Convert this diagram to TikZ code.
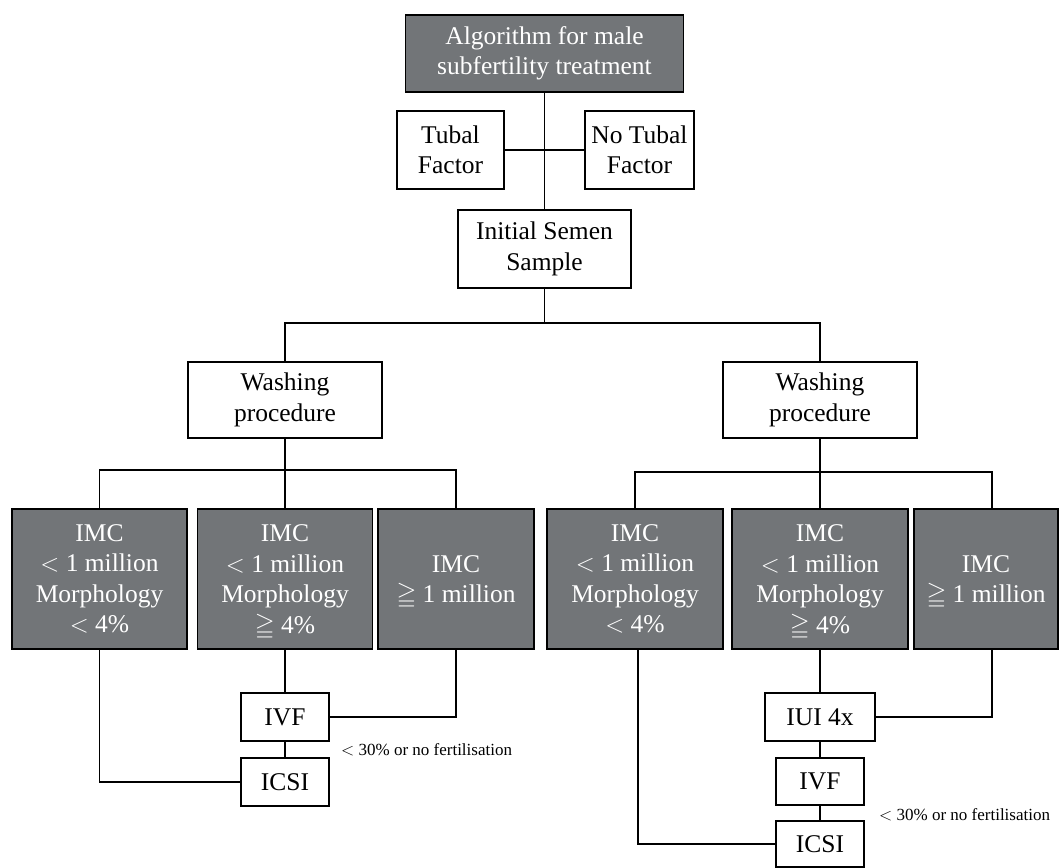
\documentclass[tikz,border=0pt]{standalone}
\usepackage{amssymb}
\usepackage{fontspec}
\setmainfont{Liberation Serif}
\usetikzlibrary{calc}
\definecolor{boxgray}{RGB}{114,117,120}
\newcommand{\gq}{\smash{$\geqq$}}
\begin{document}
\begin{tikzpicture}[x=1pt,y=-1pt,
  base/.style={draw=black,line width=1.8pt,inner sep=0pt,align=center,
    font=\fontsize{25.5}{30.5}\selectfont},
  wbox/.style={base,fill=white,text=black},
  gbox/.style={base,fill=boxgray,text=white},
  conn/.style={line width=1.8pt,black},
  note/.style={font=\fontsize{17}{20}\selectfont,anchor=west,inner sep=0pt}]
\useasboundingbox (0,0) rectangle (1062,867);
% top part
\node[gbox,minimum width=278pt,minimum height=77pt] (top) at (544.5,53.5) {Algorithm for male\\subfertility treatment};
\node[wbox,minimum width=107pt,minimum height=78pt] (tubal) at (450.5,150) {Tubal\\Factor};
\node[wbox,minimum width=109pt,minimum height=78pt] (notubal) at (639.5,150) {No Tubal\\Factor};
\node[wbox,minimum width=173pt,minimum height=78pt] (initial) at (544.5,249) {Initial Semen\\Sample};
\node[wbox,minimum width=194pt,minimum height=76pt] (wash1) at (285,400) {Washing\\procedure};
\node[wbox,minimum width=194pt,minimum height=76pt] (wash2) at (820,400) {Washing\\procedure};
% IMC row
\node[gbox,minimum width=175pt,minimum height=140pt] (b1) at (99.5,579) {IMC\\$<$ 1 million\\Morphology\\$<$ 4\%};
\node[gbox,minimum width=175pt,minimum height=140pt] (b2) at (285,579) {IMC\\$<$ 1 million\\Morphology\\\gq{} 4\%};
\node[gbox,minimum width=156pt,minimum height=140pt] (b3) at (456,579) {IMC\\\gq{} 1 million};
\node[gbox,minimum width=176pt,minimum height=140pt] (b4) at (635,579) {IMC\\$<$ 1 million\\Morphology\\$<$ 4\%};
\node[gbox,minimum width=176pt,minimum height=140pt] (b5) at (820,579) {IMC\\$<$ 1 million\\Morphology\\\gq{} 4\%};
\node[gbox,minimum width=144pt,minimum height=140pt] (b6) at (986,579) {IMC\\\gq{} 1 million};
% bottom left
\node[wbox,minimum width=88pt,minimum height=48pt] (ivf1) at (285,717) {IVF};
\node[wbox,minimum width=88pt,minimum height=48pt] (icsi1) at (285,782) {ICSI};
% bottom right
\node[wbox,minimum width=110pt,minimum height=48pt] (iui) at (820,717) {IUI 4x};
\node[wbox,minimum width=88pt,minimum height=47pt] (ivf2) at (820,781.5) {IVF};
\node[wbox,minimum width=88pt,minimum height=46pt] (icsi2) at (820,844) {ICSI};
% notes
\node[note] (n1) at (341,750) {$<$ 30\% or no fertilisation};
\node[note] (n2) at (879,815) {$<$ 30\% or no fertilisation};
% junctions
\coordinate (j1) at ($(initial.south)+(0,34)$);
\coordinate (j2) at ($(wash1.south)+(0,31)$);
\coordinate (j3) at ($(wash2.south)+(0,33)$);
\coordinate (b6n) at ($(b6.north)+(6,0)$);
\coordinate (b6s) at ($(b6.south)+(6,0)$);
\coordinate (b4s) at ($(b4.south)+(3,0)$);
% connectors
\draw[conn] (top.south) -- (initial.north);
\draw[conn] (tubal.east) -- (notubal.west);
\draw[conn] (initial.south) -- (j1);
\draw[conn] (wash1.north) |- (j1) -| (wash2.north);
\draw[conn] (wash1.south) -- (j2);
\draw[conn] (b1.north) |- (j2) -| (b3.north);
\draw[conn] (j2) -- (b2.north);
\draw[conn] (wash2.south) -- (j3);
\draw[conn] (b4.north) |- (j3) -| (b6n);
\draw[conn] (j3) -- (b5.north);
\draw[conn] (b2.south) -- (ivf1.north);
\draw[conn] (ivf1.south) -- (icsi1.north);
\draw[conn] (b1.south) |- (icsi1.west);
\draw[conn] (b3.south) |- (ivf1.east);
\draw[conn] (b5.south) -- (iui.north);
\draw[conn] (iui.south) -- (ivf2.north);
\draw[conn] (ivf2.south) -- (icsi2.north);
\draw[conn] (b4s) |- (icsi2.west);
\draw[conn] (b6s) |- (iui.east);
\end{tikzpicture}
\end{document}
